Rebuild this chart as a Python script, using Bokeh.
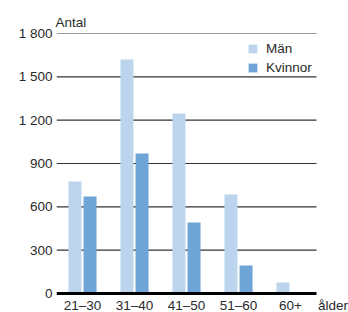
import numpy as np
from bokeh.plotting import figure
from bokeh.models import ColumnDataSource, Range1d, FixedTicker, Legend, LegendItem
from bokeh.core.properties import value
from bokeh.embed import file_html
from bokeh.resources import INLINE

categories = ["21–30", "31–40", "41–50", "51–60", "60+"]
man = [775, 1620, 1246, 685, 76]
kvinnor = [672, 969, 492, 194, 10]
yticks = [0, 300, 600, 900, 1200, 1500, 1800]
ytick_labels = ["0", "300", "600", "900", "1 200", "1 500", "1 800"]
x_title = "ålder"
y_title = "Antal"

FONT = "Liberation Sans"
TXT = "#2a2a2a"
FS = "13.5px"

n = len(categories)
centers = np.arange(n) + 0.5
src = ColumnDataSource(dict(xm=centers - 0.145, xk=centers + 0.145, man=man, kv=kvinnor))

p = figure(width=348, height=312, x_range=Range1d(0, 5.615), y_range=Range1d(-131.5, 1800),
           output_backend="svg", toolbar_location=None, title=y_title,
           min_border_left=56, min_border_right=0, min_border_top=33, min_border_bottom=0)
p.outline_line_color = None
p.background_fill_color = None
p.border_fill_color = "white"
p.xgrid.grid_line_color = None
p.ygrid.grid_line_color = None
p.xaxis.visible = False

p.title.text_font = FONT
p.title.text_font_size = FS
p.title.text_font_style = "normal"
p.title.text_color = TXT
p.title.align = "left"
p.title.offset = -1
p.title.standoff = 7

# gridlines and baseline from tick values, spanning the category band
grid_y = yticks[1:]
p.segment(x0=[0] * len(grid_y), x1=[n] * len(grid_y), y0=grid_y, y1=grid_y,
          line_color="#333333", line_width=1.2)

r1 = p.vbar(x="xm", top="man", width=0.25, source=src, fill_color="#bcd5ec", line_color=None)
r2 = p.vbar(x="xk", top="kv", width=0.25, source=src, fill_color="#6ea4d6", line_color=None)

p.segment(x0=[0], x1=[n], y0=[yticks[0]], y1=[yticks[0]], line_color="black", line_width=3)

# category labels along the baseline, plus the axis title to the right
lx = list(centers) + [5.317]
lt = categories + [x_title]
p.text(x=lx, y=[0] * len(lx), text=lt, text_align="center", text_baseline="middle",
       y_offset=12, text_font=value(FONT), text_font_size=FS, text_color=TXT)

p.yaxis.ticker = FixedTicker(ticks=yticks)
p.yaxis.major_label_overrides = {t: l for t, l in zip(yticks, ytick_labels)}
ax = p.yaxis
ax.axis_line_color = None
ax.major_tick_line_color = None
ax.minor_tick_line_color = None
ax.major_tick_out = 0
ax.major_tick_in = 0
ax.major_label_standoff = 4
ax.major_label_text_font = FONT
ax.major_label_text_font_size = FS
ax.major_label_text_color = TXT

legend = Legend(items=[LegendItem(label="Män", renderers=[r1]), LegendItem(label="Kvinnor", renderers=[r2])],
                background_fill_alpha=0, border_line_color=None,
                label_text_font=FONT, label_text_font_size=FS, label_text_color=TXT,
                glyph_width=11, glyph_height=11, spacing=4, padding=0, margin=0,
                label_standoff=8, label_height=13)
legend.location = (191, 237)
p.add_layout(legend)

open("out.html", "w").write(file_html(p, INLINE))
